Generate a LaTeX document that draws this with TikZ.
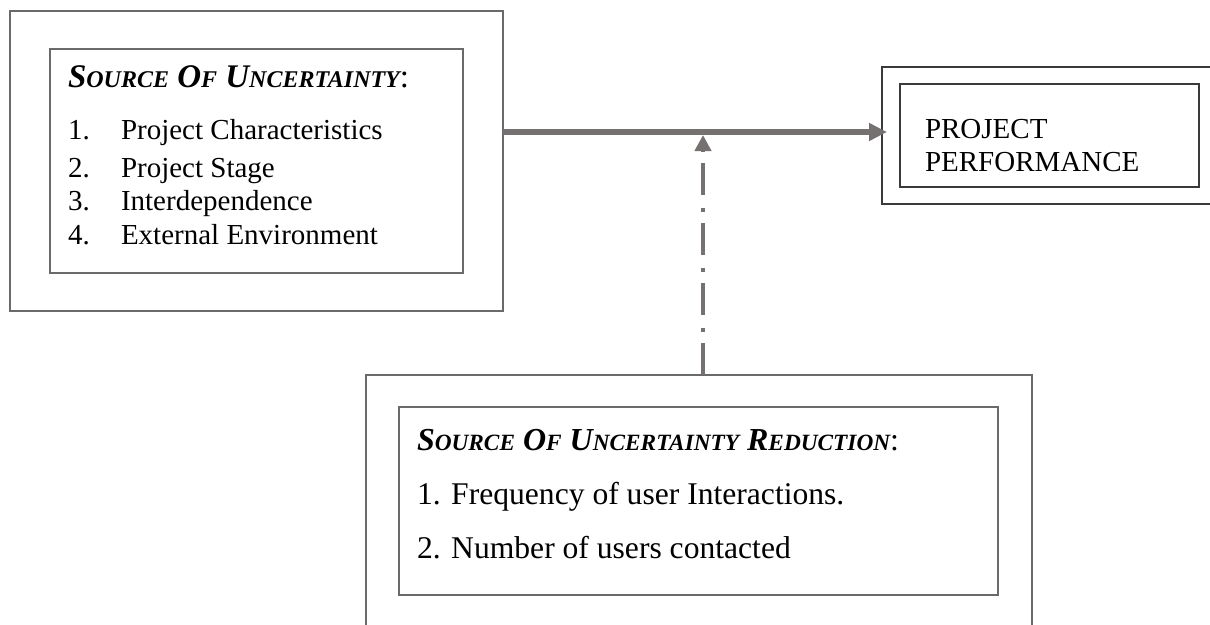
\documentclass[tikz,border=0pt]{standalone}
\usepackage{fontspec}
\setmainfont{Liberation Serif}
\usetikzlibrary{arrows.meta}
\definecolor{arrowgray}{HTML}{767171}
\definecolor{boxgray}{HTML}{6A6A6A}
\definecolor{boxdark}{HTML}{3A3A3A}
\newcommand\capA[1]{{\fontsize{33}{33}\selectfont #1}}
\newcommand\smA[1]{{\fontsize{24}{24}\selectfont #1}}
\newcommand\capB[1]{{\fontsize{32}{32}\selectfont #1}}
\newcommand\smB[1]{{\fontsize{23.3}{23.3}\selectfont #1}}
\begin{document}
\begin{tikzpicture}[x=1pt,y=-1pt,
  boxnode/.style={draw, line width=1.2pt, inner sep=0pt, outer sep=0pt, anchor=north west},
  txt/.style={inner sep=0pt, outer sep=0pt, anchor=base west, text=black},
  item/.style={txt, font=\fontsize{29}{29}\selectfont},
  itemB/.style={txt, font=\fontsize{31.6}{31.6}\selectfont},
  mainarrow/.style={draw=arrowgray, line width=6pt, -{Triangle[length=18pt,width=17pt]}},
  modarrow/.style={draw=arrowgray, line width=4.5pt, dash pattern=on 32pt off 11.5pt on 4pt off 12.5pt, -{Triangle[length=16pt,width=16pt]}}
]
\useasboundingbox (0,0) rectangle (1210,624);
\fill[white] (0,0) rectangle (1210,624);

% left boxes
\node[boxnode, draw=boxgray, minimum width=493pt, minimum height=300pt] (outerL) at (10,11) {};
\node[boxnode, draw=boxgray, minimum width=413pt, minimum height=224pt] (innerL) at (50,49) {};
\node[txt, font=\fontsize{33}{33}\selectfont] (titleL) at (68,87)
  {\bfseries\itshape\capA{S}\smA{OURCE} \capA{O}\smA{F} \capA{U}\smA{NCERTAINTY}\upshape\mdseries\capA{:}};
\node[item] (n1) at (68,139) {1.};
\node[item] (i1) at (121,139) {Project Characteristics};
\node[item] (n2) at (68,177) {2.};
\node[item] (i2) at (121,177) {Project Stage};
\node[item] (n3) at (68,210) {3.};
\node[item] (i3) at (121,210) {Interdependence};
\node[item] (n4) at (68,244) {4.};
\node[item] (i4) at (121,244) {External Environment};

% right boxes
\node[boxnode, draw=boxdark, minimum width=333pt, minimum height=137pt] (outerR) at (882,67) {};
\node[boxnode, draw=boxdark, minimum width=299pt, minimum height=103pt] (innerR) at (900,84) {};
\node[item] (p1) at (925,138) {PROJECT};
\node[item] (p2) at (925,171) {PERFORMANCE};

% bottom boxes
\node[boxnode, draw=boxgray, minimum width=666pt, minimum height=265pt] (outerB) at (366,375) {};
\node[boxnode, draw=boxgray, minimum width=599pt, minimum height=188pt] (innerB) at (399,407) {};
\node[txt, font=\fontsize{32}{32}\selectfont] (titleB) at (417,450)
  {\bfseries\itshape\capB{S}\smB{OURCE} \capB{O}\smB{F} \capB{U}\smB{NCERTAINTY} \capB{R}\smB{EDUCTION}\upshape\mdseries\capB{:}};
\node[itemB] (b1) at (417,504) {1. Frequency of user Interactions.};
\node[itemB] (b2) at (417,558) {2. Number of users contacted};

% connectors
\coordinate (h) at (0,132);
\coordinate (m) at (703,135);
\draw[mainarrow] (outerL.east |- h) -- ([xshift=5pt]outerR.west |- h);
\draw[modarrow] (outerB.north -| m) -- (m);
\end{tikzpicture}
\end{document}
